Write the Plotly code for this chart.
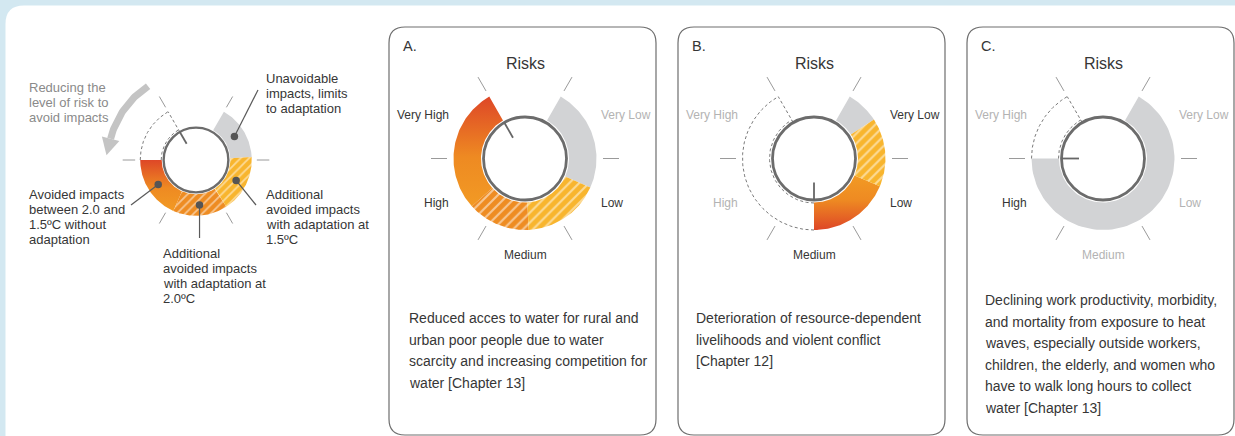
import numpy as np
import plotly.graph_objects as go

W, H = 1235, 436

# ---------------------------------------------------------------- data
risk_labels = ["Very Low", "Low", "Medium", "High", "Very High"]
panel_letters = ["A.", "B.", "C."]
# Segments on the risk scale: 0 = start of "Very Low", 5 = end of "Very High"
gray_seg = [(0.0, 1.4), (0.0, 0.45), (0.0, 4.0)]
yellow_hatch_seg = [(1.4, 2.45), (0.45, 1.38), None]
orange_hatch_seg = [(2.45, 3.3), None, None]
orange_seg = [(3.3, 5.0), (1.38, 2.5), None]
dashed_seg = [None, (2.5, 5.0), (4.0, 5.0)]
needle_level = [5.0, 2.5, 4.0]
active_labels = [
    ["Low", "Medium", "High", "Very High"],
    ["Very Low", "Low", "Medium"],
    ["High"],
]
panel_text = [
    ["Reduced acces to water for rural and",
     "urban poor people due to water",
     "scarcity and increasing competition for",
     "water [Chapter 13]"],
    ["Deterioration of resource-dependent",
     "livelihoods and violent conflict",
     "[Chapter 12]"],
    ["Declining work productivity, morbidity,",
     "and mortality from exposure to heat",
     "waves, especially outside workers,",
     "children, the elderly, and women who",
     "have to walk long hours to collect",
     "water [Chapter 13]"],
]

# Legend (explanatory) dial
legend_gray = (0.0, 0.95)
legend_yellow_hatch = (0.95, 1.95)
legend_orange_hatch = (1.95, 2.9)
legend_orange = (2.9, 4.0)
legend_dashed = (4.0, 5.0)
legend_needle = 5.0
legend_arrow_text = ["Reducing the", "level of risk to", "avoid impacts"]
legend_gray_text = ["Unavoidable", "impacts, limits", "to adaptation"]
legend_yellow_text = ["Additional", "avoided impacts", "with adaptation at", "1.5ºC"]
legend_orange_text = ["Avoided impacts", "between 2.0 and", "1.5ºC without", "adaptation"]
legend_ohatch_text = ["Additional", "avoided impacts", "with adaptation at", "2.0ºC"]

# ---------------------------------------------------------------- style
BG = "#d3e8f1"
GRAY = "#d2d3d5"
YELLOW = "#f8b52e"
ORANGE_H = "#ee8c22"
ORANGE = "#f29a24"
RED = "#de4727"
DARK = "#363636"
LIGHT = "#b3b3b3"
LINE = "#6c6c6c"
FONT = "Liberation Sans, Arial, sans-serif"

fig = go.Figure()
shapes = []
annos = []


def ang(level):
    return np.deg2rad(60.0 - 60.0 * level)


def pt(cx, cy, r, level):
    a = ang(level)
    return cx + r * np.cos(a), cy - r * np.sin(a)


def ring(cx, cy, r0, r1, seg, n=80):
    ls = np.linspace(seg[0], seg[1], n)
    ox, oy = pt(cx, cy, r1, ls)
    ix, iy = pt(cx, cy, r0, ls[::-1])
    xs = np.concatenate([ox, ix, ox[:1]])
    ys = np.concatenate([oy, iy, oy[:1]])
    return xs, ys


def add_fill(xs, ys, color):
    fig.add_trace(go.Scatter(x=xs, y=ys, mode="lines", fill="toself",
                             fillcolor=color, line=dict(width=0),
                             hoverinfo="skip", showlegend=False))


def add_hatch(xs, ys, color, size):
    fig.add_trace(go.Scatter(x=xs, y=ys, mode="lines", fill="toself",
                             fillcolor=color, line=dict(width=0),
                             fillpattern=dict(shape="/", fgcolor="white", bgcolor=color,
                                              size=size, solidity=0.3),
                             hoverinfo="skip", showlegend=False))


def add_grad(xs, ys, red_on_top):
    scale = [[0, RED], [0.55, "#ee8a22"], [1, ORANGE]] if red_on_top else \
            [[0, ORANGE], [0.45, "#ee8a22"], [1, RED]]
    fig.add_trace(go.Scatter(x=xs, y=ys, mode="lines", fill="toself",
                             line=dict(width=0),
                             fillgradient=dict(type="vertical", colorscale=scale,
                                               start=float(np.min(ys)), stop=float(np.max(ys))),
                             hoverinfo="skip", showlegend=False))


def add_line(xs, ys, color, width, dash="solid"):
    fig.add_trace(go.Scatter(x=xs, y=ys, mode="lines",
                             line=dict(color=color, width=width, dash=dash),
                             hoverinfo="skip", showlegend=False))


def dial(cx, cy, k, gray, yh, oh, org, dsh, needle, red_on_top, hatch_size):
    r_c, r0, r1 = 41.5 * k, 44 * k, 71.5 * k
    # ticks at each level boundary
    for lv in range(6):
        x0, y0 = pt(cx, cy, 78 * k, lv)
        x1, y1 = pt(cx, cy, 94 * k, lv)
        add_line([x0, x1], [y0, y1], "#9a9a9a", 1)
    if gray:
        add_fill(*ring(cx, cy, r0, r1, gray), GRAY)
    if org:
        add_grad(*ring(cx, cy, r0, r1, org), red_on_top)
    if oh:
        add_hatch(*ring(cx, cy, r0, r1, oh), ORANGE_H, hatch_size)
    if yh:
        add_hatch(*ring(cx, cy, r0, r1, yh), YELLOW, hatch_size)
    if dsh:
        ls = np.linspace(dsh[0], dsh[1], 80)
        ox, oy = pt(cx, cy, r1, ls)
        add_line(ox, oy, "#7a7a7a", 1, "3px,2.5px")
        ix, iy = pt(cx, cy, r0 + 0.5, ls)
        add_line(ix, iy, "#7a7a7a", 1, "3px,2.5px")
        ex0, ey0 = pt(cx, cy, r_c, dsh[1])
        ex1, ey1 = pt(cx, cy, r1, dsh[1])
        add_line([ex0, ex1], [ey0, ey1], "#7a7a7a", 1, "3px,2.5px")
    shapes.append(dict(type="circle", xref="x", yref="y", x0=cx - r_c, x1=cx + r_c,
                       y0=cy - r_c, y1=cy + r_c, line=dict(color=LINE, width=2.8 * max(k, 0.85)),
                       fillcolor="white", layer="above"))
    nx0, ny0 = pt(cx, cy, 24 * k, needle)
    nx1, ny1 = pt(cx, cy, r_c, needle)
    shapes.append(dict(type="line", xref="x", yref="y", x0=nx0, y0=ny0, x1=nx1, y1=ny1,
                       line=dict(color="#666666", width=1.8), layer="above"))


def text(x, y, s, size, color=DARK, xanchor="left"):
    annos.append(dict(x=x, y=y, xref="x", yref="y", text=s, showarrow=False,
                      xanchor=xanchor, yanchor="middle",
                      font=dict(size=size, color=color, family=FONT)))


def rrect(x0, y0, x1, y1, r):
    return (f"M{x0 + r},{y0} L{x1 - r},{y0} Q{x1},{y0} {x1},{y0 + r} L{x1},{y1 - r} "
            f"Q{x1},{y1} {x1 - r},{y1} L{x0 + r},{y1} Q{x0},{y1} {x0},{y1 - r} "
            f"L{x0},{y0 + r} Q{x0},{y0} {x0 + r},{y0} Z")


# ---------------------------------------------------------------- background
shapes.append(dict(type="path", xref="x", yref="y",
                   path="M5.5,24 Q5.5,5.5 24,5.5 L1240,5.5 L1240,445 L5.5,445 Z",
                   fillcolor="white", line=dict(width=0), layer="below"))

# ---------------------------------------------------------------- panels
BOX_X0, BOX_STEP, BOX_W = 389, 289, 267
CY = 158.5
for i in range(3):
    bx = BOX_X0 + i * BOX_STEP
    shapes.append(dict(type="path", xref="x", yref="y",
                       path=rrect(bx, 27, bx + BOX_W, 435, 16),
                       fillcolor="rgba(0,0,0,0)", line=dict(color="#6e6e6e", width=1.2),
                       layer="below"))
    cx = bx + 136
    dial(cx, CY, 1.0, gray_seg[i], yellow_hatch_seg[i], orange_hatch_seg[i],
         orange_seg[i], dashed_seg[i], needle_level[i], red_on_top=(i != 1), hatch_size=7)
    text(bx + 12, 46, panel_letters[i], 14.5)
    text(cx, 63, "Risks", 16, xanchor="center")
    for j, lab in enumerate(risk_labels):
        col = DARK if lab in active_labels[i] else LIGHT
        lx, ly = pt(cx, CY, 88, j + 0.5)
        if j == 2:
            text(cx, CY + 96, lab, 12, col, "center")
        elif lx < cx:
            text(lx + 2, ly, lab, 12, col, "right")
        else:
            text(lx - 2, ly, lab, 12, col, "left")
    ty0 = 318 if len(panel_text[i]) < 5 else 300
    for j, line in enumerate(panel_text[i]):
        text(bx + 18 if i == 0 else bx + 16, ty0 + 21.5 * j, line, 14, DARK)

# ---------------------------------------------------------------- legend dial
LCX, LCY, LK = 196, 160, 0.78
dial(LCX, LCY, LK, legend_gray, legend_yellow_hatch, legend_orange_hatch,
     legend_orange, legend_dashed, legend_needle, red_on_top=True, hatch_size=6)

# curved arrow "reducing the level of risk"
th = np.deg2rad(np.linspace(123, 166, 40))
add_line(LCX + 88 * np.cos(th), LCY - 88 * np.sin(th), "#c4c4c4", 7)
t_end = np.deg2rad(166)
px, py = LCX + 88 * np.cos(t_end), LCY - 88 * np.sin(t_end)
tx, ty = -np.sin(t_end), -np.cos(t_end)
nx, ny = np.cos(t_end), -np.sin(t_end)
add_fill([px + 9 * nx, px - 9 * nx, px + 17 * tx, px + 9 * nx],
         [py + 9 * ny, py - 9 * ny, py + 17 * ty, py + 9 * ny], "#c4c4c4")

# leader dots and lines
r_mid = (44 + 71.5) / 2 * LK
leaders = [(legend_gray, (258, 90)), (legend_yellow_hatch, (256, 205)),
           (legend_orange, (131, 205)), (legend_orange_hatch, None)]
for seg, end in leaders:
    dx, dy = pt(LCX, LCY, r_mid, (seg[0] + seg[1]) / 2)
    if end is None:
        end = (dx, 238)
    add_line([dx, end[0]], [dy, end[1]], "#5a5a5a", 1.2)
    fig.add_trace(go.Scatter(x=[dx], y=[dy], mode="markers",
                             marker=dict(size=7.5, color="#555555"),
                             hoverinfo="skip", showlegend=False))

LFS = 13
for j, s in enumerate(legend_arrow_text):
    text(27, 87 + 15 * j, s, LFS, "#8a8a8a")
for j, s in enumerate(legend_gray_text):
    text(264, 78 + 15 * j, s, LFS)
for j, s in enumerate(legend_yellow_text):
    text(264, 194 + 15.3 * j, s, LFS)
for j, s in enumerate(legend_orange_text):
    text(27, 194 + 15.3 * j, s, LFS)
for j, s in enumerate(legend_ohatch_text):
    text(161, 253 + 15.3 * j, s, LFS)

fig.update_layout(
    width=W, height=H, margin=dict(l=0, r=0, t=0, b=0),
    paper_bgcolor=BG, plot_bgcolor=BG,
    xaxis=dict(range=[0, W], visible=False, fixedrange=True),
    yaxis=dict(range=[H, 0], visible=False, fixedrange=True),
    shapes=shapes, annotations=annos, showlegend=False,
)
fig.write_html("out.html", config={"displayModeBar": False},
               post_script="document.body.style.margin='0px';document.body.style.overflow='hidden';")
